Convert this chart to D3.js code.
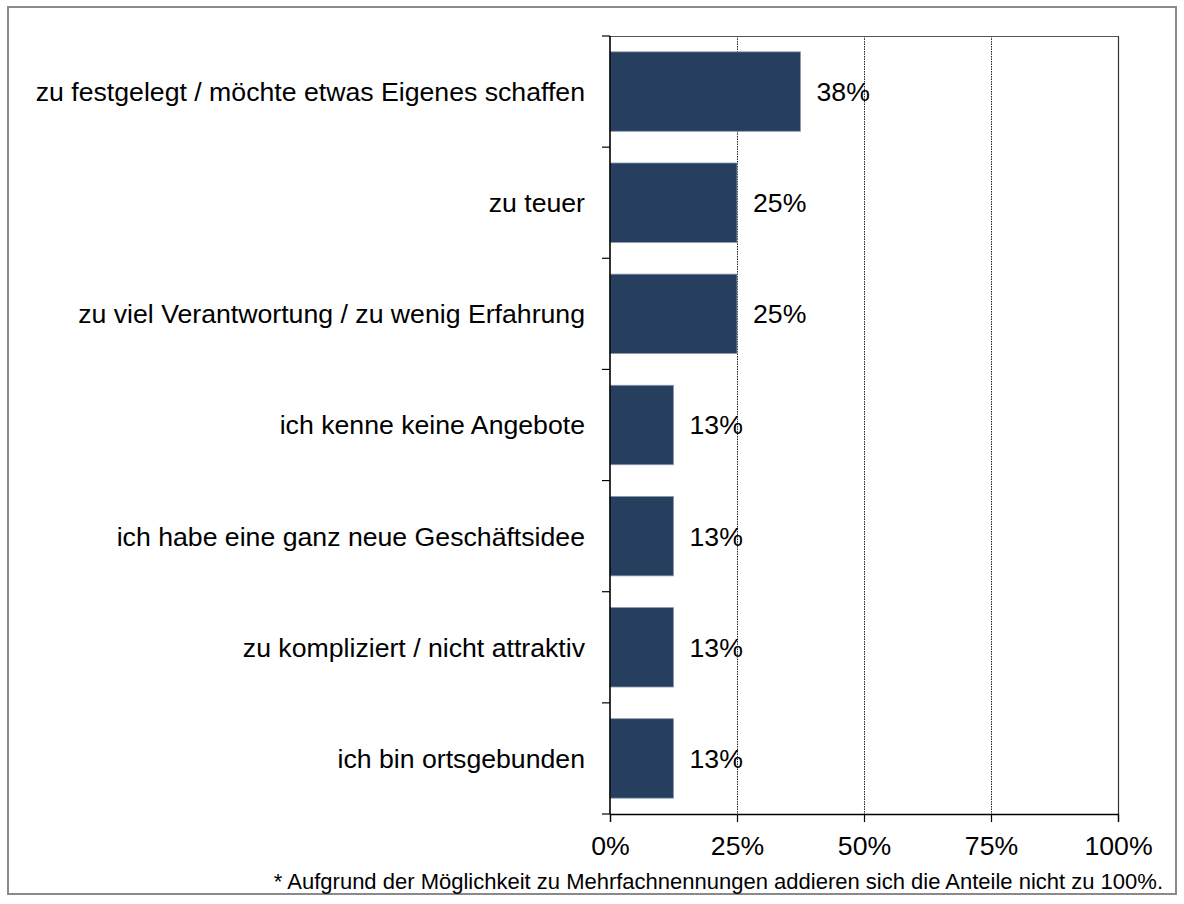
<!DOCTYPE html>
<html>
<head>
<meta charset="utf-8">
<script src="https://cdn.jsdelivr.net/npm/d3@7"></script>
<style>
  html, body { margin: 0; padding: 0; background: #fff; }
  svg { display: block; font-family: "Liberation Sans", Arial, sans-serif; }
</style>
</head>
<body>
<svg id="chart" width="1184" height="904"></svg>
<script>
// Gründe gegen eine Übernahme (Mehrfachnennungen möglich)
const categories = [
  "zu festgelegt / möchte etwas Eigenes schaffen",
  "zu teuer",
  "zu viel Verantwortung / zu wenig Erfahrung",
  "ich kenne keine Angebote",
  "ich habe eine ganz neue Geschäftsidee",
  "zu kompliziert / nicht attraktiv",
  "ich bin ortsgebunden"
];
const shares = [37.5, 25, 25, 12.5, 12.5, 12.5, 12.5];
const xTicks = [0, 25, 50, 75, 100];
const footnote = "* Aufgrund der Möglichkeit zu Mehrfachnennungen addieren sich die Anteile nicht zu 100%.";

const svg = d3.select("#chart");
const plot = { left: 610, right: 1118, top: 36, bottom: 814 };

// outer frame
svg.append("rect")
  .attr("x", 8).attr("y", 7)
  .attr("width", 1168).attr("height", 887)
  .attr("fill", "#fff")
  .attr("stroke", "#8a8a8a")
  .attr("stroke-width", 2);

const x = d3.scaleLinear().domain([0, 100]).range([plot.left, plot.right]);
const y = d3.scaleBand()
  .domain(categories)
  .range([plot.top, plot.bottom])
  .paddingInner(0.285)
  .paddingOuter(0.1425);

// dotted gridlines
svg.append("g")
  .selectAll("line")
  .data(xTicks.filter(t => t > 0 && t < 100))
  .join("line")
  .attr("x1", d => x(d) + 0.5).attr("x2", d => x(d) + 0.5)
  .attr("y1", plot.top).attr("y2", plot.bottom)
  .attr("stroke", "#222")
  .attr("stroke-width", 1)
  .attr("stroke-dasharray", "1.5,1");

// top and right plot edges
svg.append("line")
  .attr("x1", plot.left).attr("x2", plot.right + 0.5)
  .attr("y1", plot.top + 0.5).attr("y2", plot.top + 0.5)
  .attr("stroke", "#555").attr("stroke-width", 1.2);
svg.append("line")
  .attr("x1", plot.right + 0.5).attr("x2", plot.right + 0.5)
  .attr("y1", plot.top).attr("y2", plot.bottom)
  .attr("stroke", "#333").attr("stroke-width", 1.2);

// bars
svg.append("g")
  .selectAll("rect")
  .data(shares)
  .join("rect")
  .attr("x", x(0))
  .attr("y", (d, i) => y(categories[i]))
  .attr("width", d => x(d) - x(0))
  .attr("height", y.bandwidth())
  .attr("fill", "#263f5f")
  .attr("stroke", "#8e9bad")
  .attr("stroke-width", 0.8);

// value labels
const fmt = v => Math.round(v) + "%";
svg.append("g")
  .selectAll("text")
  .data(shares)
  .join("text")
  .attr("x", d => x(d) + 16)
  .attr("y", (d, i) => y(categories[i]) + y.bandwidth() / 2)
  .attr("dy", "0.355em")
  .attr("font-size", 26.67)
  .attr("fill", "#000")
  .text(fmt);

// category axis (ticks sit on the band boundaries)
const yAxis = svg.append("g");
yAxis.append("line")
  .attr("x1", plot.left).attr("x2", plot.left)
  .attr("y1", plot.top).attr("y2", plot.bottom)
  .attr("stroke", "#000").attr("stroke-width", 1.6);
const boundaries = d3.range(categories.length + 1).map(i => plot.top + i * y.step());
yAxis.selectAll("line.tick")
  .data(boundaries)
  .join("line")
  .attr("class", "tick")
  .attr("x1", plot.left - 8).attr("x2", plot.left)
  .attr("y1", d => d).attr("y2", d => d)
  .attr("stroke", "#000").attr("stroke-width", 1.2);
yAxis.selectAll("text")
  .data(categories)
  .join("text")
  .attr("x", 585)
  .attr("y", d => y(d) + y.bandwidth() / 2)
  .attr("dy", "0.355em")
  .attr("text-anchor", "end")
  .attr("font-size", 26.67)
  .attr("fill", "#000")
  .text(d => d);

// value axis
const xAxis = svg.append("g")
  .attr("transform", `translate(0,${plot.bottom})`)
  .call(d3.axisBottom(x).tickValues(xTicks).tickSize(8).tickPadding(14).tickFormat(d => d + "%"));
xAxis.select(".domain").attr("stroke", "#000").attr("stroke-width", 1.3);
xAxis.selectAll(".tick line").attr("stroke", "#000").attr("stroke-width", 1.2);
xAxis.selectAll(".tick text")
  .attr("font-size", 26.67)
  .attr("font-family", "'Liberation Sans', Arial, sans-serif")
  .attr("fill", "#000");

// footnote
svg.append("text")
  .attr("x", 1163)
  .attr("y", 889)
  .attr("text-anchor", "end")
  .attr("font-size", 22)
  .attr("fill", "#000")
  .text(footnote);
</script>
</body>
</html>
